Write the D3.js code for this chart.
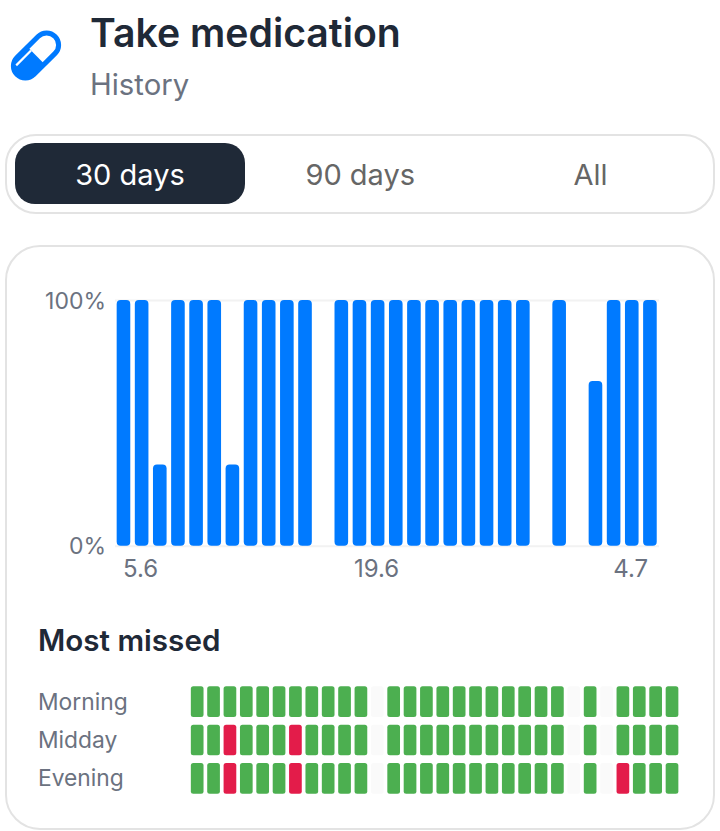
<!DOCTYPE html>
<html><head><meta charset="utf-8">
<script src="https://cdn.jsdelivr.net/npm/d3@7"></script>
<style>html,body{margin:0;background:#fff}svg{display:block}text{font-family:Inter,"Noto Sans",sans-serif}</style>
</head><body><div id="c"></div>
<script>
const title = "Take medication", subtitle = "History";
const ranges = ["30 days","90 days","All"];
const dayIndex = d3.range(30);
const completion = [1,1,.33,1,1,1,.33,1,1,1,1,0,1,1,1,1,1,1,1,1,1,1,1,0,1,0,.67,1,1,1];
const yTicks = [0,1];
const xTickIndex = [1,14,28];
const xTickLabels = ["5.6","19.6","4.7"];
const slots = ["Morning","Midday","Evening"];
// g = taken, r = missed, n = no data
const statusMorning = ["g","g","g","g","g","g","g","g","g","g","g","n","g","g","g","g","g","g","g","g","g","g","g","n","g","n","g","g","g","g"];
const statusMidday  = ["g","g","r","g","g","g","r","g","g","g","g","n","g","g","g","g","g","g","g","g","g","g","g","n","g","n","g","g","g","g"];
const statusEvening = ["g","g","r","g","g","g","r","g","g","g","g","n","g","g","g","g","g","g","g","g","g","g","g","n","g","n","r","g","g","g"];
const statusRows = [statusMorning,statusMidday,statusEvening];
const statusColor = {g:"#4caf50",r:"#e31c4a",n:"#fafafa"};

const svg = d3.select("#c").append("svg").attr("width",720).attr("height",831);

// header
const pill = svg.append("g").attr("transform","translate(36,55.5) rotate(-45)");
svg.append("defs").append("clipPath").attr("id","half").append("rect").attr("x",-32).attr("y",-14).attr("width",32).attr("height",28);
pill.append("rect").attr("x",-27).attr("y",-12).attr("width",54).attr("height",24).attr("rx",12).attr("fill","#fff").attr("stroke","#007aff").attr("stroke-width",5);
pill.append("rect").attr("x",-27).attr("y",-12).attr("width",54).attr("height",24).attr("rx",12).attr("fill","#007aff").attr("clip-path","url(#half)");
pill.append("path").attr("d","M-21,-7H0").attr("stroke","#fff").attr("stroke-width",2.2).attr("fill","none");

svg.append("text").attr("x",90).attr("y",47).attr("font-size",39.2).attr("font-weight",600).attr("fill","#1f2937").text(title);
svg.append("text").attr("x",90).attr("y",95).attr("font-size",29.3).attr("fill","#6b7280").text(subtitle);

// segmented control
svg.append("rect").attr("x",6).attr("y",135).attr("width",708).attr("height",78).attr("rx",30).attr("fill","#fff").attr("stroke","#e3e3e3").attr("stroke-width",2);
svg.append("rect").attr("x",15).attr("y",143).attr("width",230).attr("height",61).attr("rx",20).attr("fill","#1f2937");
const rangeX = d3.scalePoint().domain(ranges).range([130,590.5]);
svg.selectAll("text.r").data(ranges).join("text").attr("class","r")
  .attr("x",d=>rangeX(d)).attr("y",185).attr("text-anchor","middle").attr("font-size",29)
  .attr("fill",(d,i)=>i===0?"#fff":"#666").text(d=>d);

// card
svg.append("rect").attr("x",6).attr("y",246).attr("width",708).attr("height",583).attr("rx",34).attr("fill","#fff").attr("stroke","#e3e3e3").attr("stroke-width",2);

// bars
const x = d3.scaleBand().domain(dayIndex).range([114.4,659]).paddingInner(0.25).paddingOuter(0.125);
const y = d3.scaleLinear().domain([0,1]).range([545.7,300]);
const yAxis = d3.axisLeft(y).tickValues(yTicks).tickSize(-544).tickPadding(9).tickFormat(d3.format(".0%"));
const gy = svg.append("g").attr("transform","translate(115,0)").call(yAxis);
gy.select(".domain").remove();
gy.selectAll("line").attr("stroke","#f2f2f2").attr("stroke-width",2);
gy.selectAll("text").attr("font-size",23).attr("fill","#6b7280").attr("font-family","Inter").attr("dy","0").attr("y",8);

svg.selectAll("rect.bar").data(dayIndex.filter(i=>completion[i]>0)).join("rect").attr("class","bar")
  .attr("x",i=>x(i)).attr("width",x.bandwidth()).attr("y",i=>y(completion[i]))
  .attr("height",i=>y(0)-y(completion[i])).attr("rx",4).attr("fill","#007aff");

const xAxis = d3.axisBottom(x).tickValues(xTickIndex).tickSize(0).tickPadding(15).tickFormat(i=>xTickLabels[xTickIndex.indexOf(i)]);
const gx = svg.append("g").attr("transform","translate(-1,545)").call(xAxis);
gx.select(".domain").remove();
gx.selectAll("text").attr("font-size",24).attr("fill","#6b7280").attr("font-family","Inter");

// heat
svg.append("text").attr("x",38).attr("y",651).attr("font-size",29.6).attr("font-weight",600).attr("fill","#1f2937").text("Most missed");
const hx = d3.scaleBand().domain(dayIndex).range([189,680.2]).paddingInner(0.225).paddingOuter(0.1125);
const hy = d3.scaleBand().domain(slots).range([682.5,797.5]).paddingInner(0.2).paddingOuter(0.1);
slots.forEach((s,k)=>{
  svg.append("text").attr("x",38).attr("y",hy(s)+hy.bandwidth()/2+8).attr("font-size",22.8).attr("fill","#6b7280").text(s);
  svg.selectAll("rect.c"+k).data(dayIndex).join("rect").attr("class","c"+k)
    .attr("x",i=>hx(i)).attr("y",hy(s)).attr("width",hx.bandwidth()).attr("height",hy.bandwidth())
    .attr("rx",2.5).attr("fill",i=>statusColor[statusRows[k][i]]);
});
</script></body></html>
